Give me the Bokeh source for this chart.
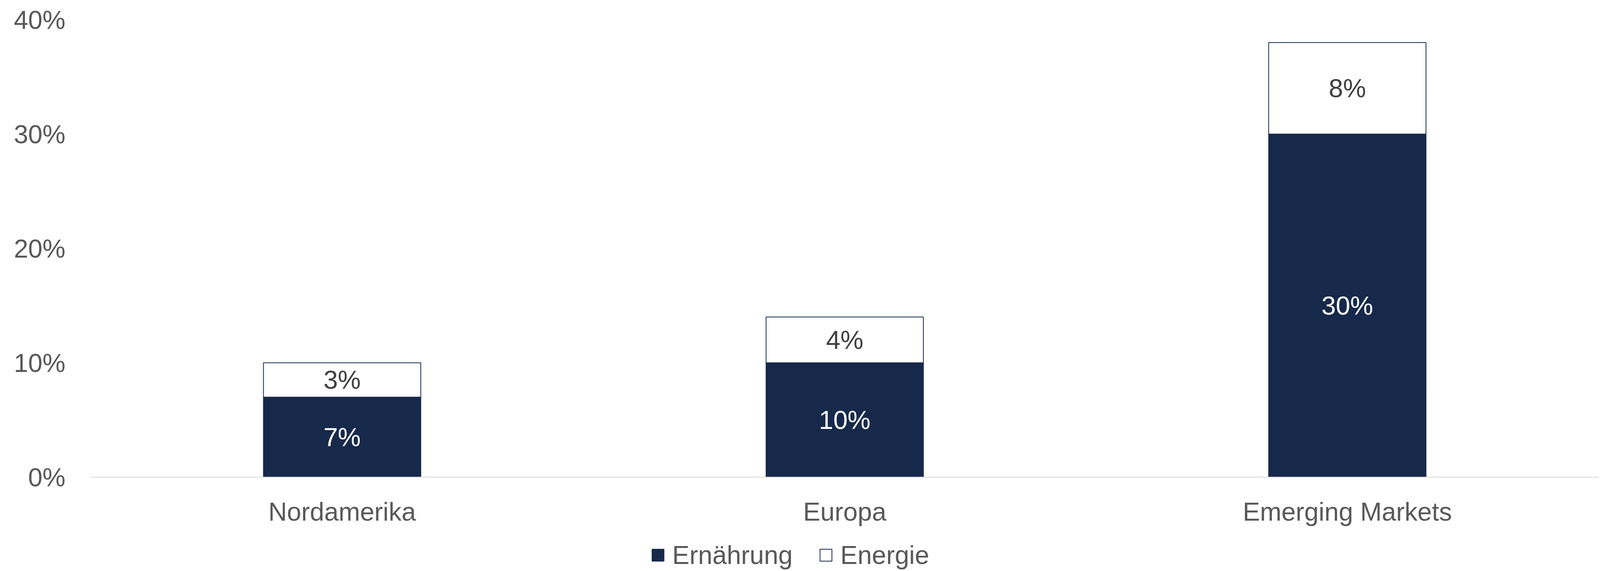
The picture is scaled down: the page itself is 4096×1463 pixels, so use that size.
from bokeh.plotting import figure
from bokeh.layouts import column
from bokeh.models import ColumnDataSource, FactorRange, NumeralTickFormatter, FixedTicker, Legend, LegendItem
from bokeh.embed import file_html
from bokeh.resources import INLINE
from bokeh.core.properties import value

categories = ["Nordamerika", "Europa", "Emerging Markets"]
ernaehrung = [0.07, 0.10, 0.30]
energie = [0.03, 0.04, 0.08]
y_ticks = [0.0, 0.1, 0.2, 0.3, 0.4]
series_names = ["Ernährung", "Energie"]

NAVY = "#17294b"
FONT = "Liberation Sans"
FS = "66px"

src = ColumnDataSource(dict(cat=categories, ern=ernaehrung, ene=energie))
xr = FactorRange(factors=categories, range_padding=0)

p = figure(x_range=xr, y_range=(0, 0.40),
           width=4096, height=1375, output_backend="svg", toolbar_location=None,
           min_border_left=232, min_border_right=4, min_border_top=50, min_border_bottom=153)
p.outline_line_color = None
p.background_fill_color = "white"
p.xgrid.visible = False
p.ygrid.visible = False

rs = p.vbar_stack(["ern", "ene"], x="cat", width=0.313, source=src,
                  fill_color=[NAVY, "white"], line_color=NAVY, line_width=2)

# segment labels
ern_mid = [e / 2 for e in ernaehrung]
ene_mid = [e + n / 2 for e, n in zip(ernaehrung, energie)]
lab_src1 = ColumnDataSource(dict(x=categories, y=ern_mid, t=[f"{round(v*100)}%" for v in ernaehrung]))
lab_src2 = ColumnDataSource(dict(x=categories, y=ene_mid, t=[f"{round(v*100)}%" for v in energie]))
p.text(x="x", y="y", text="t", source=lab_src1, text_color="white", text_align="center",
       text_baseline="middle", text_font=value(FONT), text_font_size=FS)
p.text(x="x", y="y", text="t", source=lab_src2, text_color="#404040", text_align="center",
       text_baseline="middle", text_font=value(FONT), text_font_size=FS)

# axes
p.yaxis.ticker = FixedTicker(ticks=y_ticks)
p.yaxis.formatter = NumeralTickFormatter(format="0%")
p.yaxis.axis_line_color = None
p.yaxis.major_tick_line_color = None
p.yaxis.minor_tick_line_color = None
p.yaxis.major_tick_out = 0
p.yaxis.major_label_standoff = 65
p.yaxis.major_label_text_font = FONT
p.yaxis.major_label_text_font_size = FS
p.yaxis.major_label_text_color = "#595959"

p.xaxis.axis_line_color = "#d9d9d9"
p.xaxis.axis_line_width = 2
p.xaxis.major_tick_line_color = None
p.xaxis.major_tick_out = 0
p.xaxis.major_label_standoff = 51
p.xaxis.major_label_text_font = FONT
p.xaxis.major_label_text_font_size = FS
p.xaxis.major_label_text_color = "#595959"

# legend strip below the chart (its swatch renderers are hidden; only the legend shows)
pl = figure(width=4096, height=88, output_backend="svg", toolbar_location=None,
            x_range=xr, y_range=(1000, 1001), x_axis_location=None, y_axis_location=None,
            min_border_left=232, min_border_right=4, min_border_top=0, min_border_bottom=0)
pl.outline_line_color = None
pl.grid.visible = False
gs = pl.vbar_stack(["ern", "ene"], x="cat", width=0.313, source=src,
                   fill_color=[NAVY, "white"], line_color=NAVY, line_width=2)
for g in gs:
    g.visible = False

legend = Legend(items=[LegendItem(label=series_names[0], renderers=[gs[0]]),
                       LegendItem(label=series_names[1], renderers=[gs[1]])],
                orientation="horizontal", location=(1433, 3), click_policy="none")
legend.border_line_color = None
legend.background_fill_alpha = 0
legend.inactive_fill_alpha = 0
legend.padding = 0
legend.margin = 0
legend.glyph_width = 38
legend.glyph_height = 38
legend.label_standoff = 18
legend.spacing = 66
legend.label_text_font = FONT
legend.label_text_font_size = FS
legend.label_text_color = "#595959"
pl.add_layout(legend, "center")

open("out.html", "w").write(file_html(column(p, pl, spacing=0), INLINE))
